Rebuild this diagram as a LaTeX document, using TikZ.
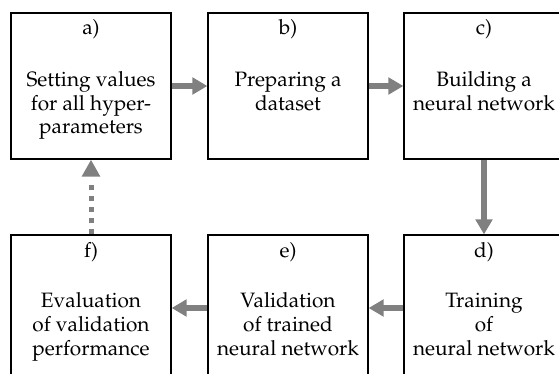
\documentclass[tikz,border=0pt]{standalone}
\usepackage[T1]{fontenc}
\usepackage{mathpazo}
\usetikzlibrary{arrows.meta,calc}
\definecolor{arrowgray}{HTML}{808080}
\begin{document}
\begin{tikzpicture}[
  box/.style={draw=black, line width=1.3pt, minimum width=160pt, minimum height=146pt, inner sep=0pt},
  lbl/.style={anchor=base, inner sep=0pt, font=\fontsize{20.8}{23.8}\selectfont},
  body/.style={anchor=north, inner sep=0pt, align=center, font=\fontsize{20.8}{23.8}\selectfont},
  flow/.style={draw=arrowgray, line width=5.5pt, -{Triangle[length=15pt,width=16.5pt]}},
  dotflow/.style={draw=arrowgray, line width=5pt, dash pattern=on 5pt off 6pt on 5pt off 6pt on 5pt off 6pt on 5pt off 6pt on 5pt off 30pt, -{Triangle[length=17pt,width=17.5pt]}},
]
\useasboundingbox (0,0) rectangle (559pt,-374pt);
\clip (0,0) rectangle (559pt,-374pt);
% boxes
\node[box] (a) at (91pt,-86pt) {};
\node[box] (b) at (288pt,-86pt) {};
\node[box] (c) at (484pt,-86pt) {};
\node[box] (f) at (91pt,-308pt) {};
\node[box] (e) at (288pt,-308pt) {};
\node[box] (d) at (484pt,-308pt) {};
% labels
\node[lbl] (la) at ($(a.north)+(0,-22.5pt)$) {a)};
\node[lbl] (lb) at ($(b.north)+(0,-22.5pt)$) {b)};
\node[lbl] (lc) at ($(c.north)+(0,-22.5pt)$) {c)};
\node[lbl] (ld) at ($(d.north)+(0,-23pt)$) {d)};
\node[lbl] (le) at ($(e.north)+(0,-23pt)$) {e)};
\node[lbl] (lf) at ($(f.north)+(0,-23pt)$) {f)};
% texts
\node[body] (ta) at ($(a.north)+(0,-57pt)$) {\strut Setting values\\for all hyper-\\parameters};
\node[body] (tb) at ($(b.north)+(0,-57pt)$) {\strut Preparing a\\dataset};
\node[body] (tc) at ($(c.north)+(0,-57pt)$) {\strut Building a\\neural network};
\node[body] (td) at ($(d.north)+(0,-56.5pt)$) {\strut Training\\of\\neural network};
\node[body] (te) at ($(e.north)+(0,-56.5pt)$) {\strut Validation\\of trained\\neural network};
\node[body] (tf) at ($(f.north)+(0,-56.5pt)$) {\strut Evaluation\\of validation\\performance};
% connectors
\draw[flow] (a.east) -- (b.west);
\draw[flow] (b.east) -- (c.west);
\draw[flow] (c.south) -- (d.north);
\draw[flow] (d.west) -- (e.east);
\draw[flow] (e.west) -- (f.east);
\draw[dotflow] (f.north) -- (a.south);
\end{tikzpicture}
\end{document}
